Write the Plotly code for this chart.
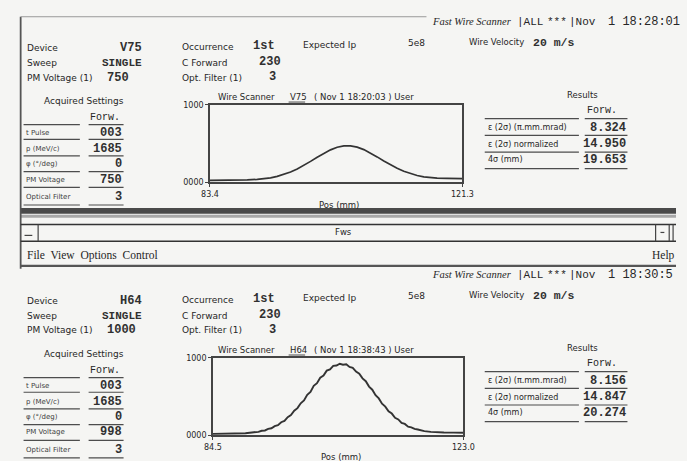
import plotly.graph_objects as go

W, H = 687, 461

# ---------------- data ----------------
top_pos = [83.4, 85.0, 87.0, 89.0, 90.5, 91.5, 92.5, 93.5, 94.5, 95.5, 96.5, 97.5,
           98.5, 99.5, 100.5, 101.5, 102.5, 103.5, 104.5, 105.5, 106.5, 107.5,
           108.5, 109.5, 110.5, 111.5, 112.5, 113.5, 114.5, 115.5, 116.5, 117.5,
           119.0, 121.3]
top_val = [28, 28, 29, 33, 40, 48, 60, 78, 102, 134, 174, 220,
           272, 325, 377, 421, 454, 471, 472, 456, 424, 381,
           330, 278, 227, 182, 144, 113, 90, 73, 62, 56,
           52, 50]

bot_pos = [84.5, 86.0, 88.0, 89.5, 90.5, 91.5, 92.0, 92.5, 93.0, 93.5, 94.0, 94.5,
           95.0, 95.5, 96.0, 96.5, 97.0, 97.5, 98.0, 98.5, 99.0, 99.5, 100.0, 100.5,
           101.0, 101.5, 102.0, 102.5, 103.0, 103.5, 104.0, 104.5, 105.0, 105.5,
           106.0, 106.5, 107.0, 107.5, 108.0, 108.5, 109.0, 109.5, 110.0, 110.5,
           111.0, 111.5, 112.0, 112.5, 113.0, 113.5, 114.0, 114.5, 115.0, 115.5,
           116.0, 116.5, 117.0, 118.0, 119.0, 120.0, 121.5, 123.0]
bot_val = [20, 22, 24, 28, 38, 46, 60, 64, 84, 92, 120, 132,
           170, 188, 236, 262, 318, 352, 415, 452, 524, 562, 640, 674,
           745, 772, 836, 852, 898, 902, 925, 912, 918, 884,
           872, 824, 798, 736, 700, 630, 590, 520, 478, 410,
           372, 312, 282, 228, 206, 162, 148, 112, 104, 84,
           76, 62, 56, 46, 40, 38, 36, 35]

top_xticks = [83.4, 121.3]
top_xticktext = ["83.4", "121.3"]
bot_xticks = [84.5, 123.0]
bot_xticktext = ["84.5", "123.0"]
y_ticks = [0, 1000]
y_ticktext = ["0000", "1000"]

acq_labels = ["t Pulse", "p (MeV/c)", "φ (°/deg)", "PM Voltage", "Optical Filter"]
top_acq = ["003", "1685", "0", "750", "3"]
bot_acq = ["003", "1685", "0", "998", "3"]
res_labels = ["ε (2σ) (π.mm.mrad)", "ε (2σ) normalized", "4σ (mm)"]
top_res = ["8.324", "14.950", "19.653"]
bot_res = ["8.156", "14.847", "20.274"]

# ---------------- styling helpers ----------------
SANS = "DejaVu Sans"
MONO = "Liberation Mono"
SERIF = "Liberation Serif"
TXT = "#262626"
FAINT = "#404040"
LINE = "#4d4d4d"
BG = "#f5f5f3"


def px(x):
    return x / W


def py(y):
    return 1 - y / H


annotations = []
shapes = []


def txt(x, y, s, anchor="left", size=9, family=SANS, color=TXT):
    annotations.append(dict(x=px(x), y=py(y), xref="paper", yref="paper", text=s,
                            showarrow=False, xanchor=anchor, yanchor="middle",
                            borderpad=0,
                            font=dict(family=family, size=size, color=color)))


def val(x, y, s, anchor="left", size=12):
    txt(x, y, "<b>" + s + "</b>", anchor=anchor, size=size, family=MONO, color="#303030")


def hline(x0, x1, y, w=1.2, c=LINE):
    shapes.append(dict(type="line", xref="paper", yref="paper", x0=px(x0), x1=px(x1),
                       y0=py(y), y1=py(y), line=dict(color=c, width=w)))


def vline(x, y0, y1, w=1.2, c=LINE):
    shapes.append(dict(type="line", xref="paper", yref="paper", x0=px(x), x1=px(x),
                       y0=py(y0), y1=py(y1), line=dict(color=c, width=w)))


def rect(x0, y0, x1, y1, fill, lw=0, lc=LINE):
    shapes.append(dict(type="rect", xref="paper", yref="paper", x0=px(x0), x1=px(x1),
                       y0=py(y1), y1=py(y0), fillcolor=fill,
                       line=dict(color=lc, width=lw), layer="below"))


def panel(o, device, pmv, acq, res, header_time, title_dev, title_time):
    # o: vertical offset of the panel (top panel o=0)
    # header
    txt(435, 18 + o, "<i>Fast Wire Scanner</i>", family=SERIF, size=10.5)
    txt(522, 18 + o, "|ALL", family=MONO, size=11)
    txt(553, 18 + o, "***", family=MONO, size=11)
    txt(576, 18 + o, "|Nov", family=MONO, size=11)
    txt(616, 18 + o, header_time, family=MONO, size=12)
    # info block
    txt(18, 45 + o, "Device")
    val(138, 45 + o, device, anchor="right")
    txt(18, 60 + o, "Sweep")
    val(138, 60 + o, "SINGLE", anchor="right", size=11)
    txt(18, 75 + o, "PM Voltage (1)")
    val(100, 75 + o, pmv)
    txt(177, 44 + o, "Occurrence")
    val(250, 43 + o, "1st")
    txt(177, 60 + o, "C Forward")
    val(256, 59 + o, "230")
    txt(177, 75 + o, "Opt. Filter (1)")
    val(276, 74 + o, "3", anchor="right")
    txt(302, 42 + o, "Expected Ip")
    txt(410, 40 + o, "5e8")
    txt(473, 39 + o, "Wire Velocity", size=8.5)
    val(539, 39 + o, "20 m/s", size=11.5)
    # acquired settings table
    txt(77, 99 + o, "Acquired Settings", anchor="center", size=9)
    txt(99, 116 + o, "Forw.", anchor="center", family=MONO, size=10)
    hline(15, 73, 123 + o)
    hline(82, 118, 123 + o)
    rows_t = [132, 148, 163, 179, 197]
    rows_l = [138, 155, 171, 187, 205]
    for lab, v, ty, ly in zip(acq_labels, acq, rows_t, rows_l):
        txt(16, ty + o, lab, size=7, color=FAINT)
        val(117, ty + o, v, anchor="right")
        hline(15, 73, ly + o)
        hline(82, 118, ly + o)
    # plot title
    txt(214, 95 + o, "Wire Scanner", size=8.5)
    txt(288, 95 + o, title_dev, size=8.5)
    hline(288, 305, 100 + o, w=1)
    txt(313, 95 + o, "( " + title_time + " ) User", size=8.5)
    # results table
    txt(591, 93 + o, "Results", anchor="center", size=8.5)
    txt(611, 109 + o, "Forw.", anchor="center", family=MONO, size=10)
    hline(490, 587, 117 + o)
    hline(593, 637, 117 + o)
    rt = [126, 143, 159]
    rl = [134, 151, 168]
    for lab, v, ty, ly in zip(res_labels, res, rt, rl):
        txt(492, ty + o, lab, size=8)
        val(637, ty + o, v, anchor="right")
        hline(490, 587, ly + o)
        hline(593, 637, ly + o)


# ---------------- figure ----------------
fig = go.Figure()
fig.add_trace(go.Scatter(x=top_pos, y=top_val, mode="lines", xaxis="x", yaxis="y",
                         line=dict(color="#333333", width=1.7), showlegend=False,
                         hoverinfo="skip"))
fig.add_trace(go.Scatter(x=bot_pos, y=bot_val, mode="lines", xaxis="x2", yaxis="y2",
                         line=dict(color="#333333", width=1.9), showlegend=False,
                         hoverinfo="skip"))

# panels
panel(0, "V75", "750", top_acq, top_res, "1 18:28:01", "V75", "Nov 1 18:20:03")
panel(258, "H64", "1000", bot_acq, bot_res, "1 18:30:5", "H64", "Nov 1 18:38:43")

# axis captions
txt(340, 205, "Pos (mm)", anchor="center", size=8.5)
txt(342, 462, "Pos (mm)", anchor="center", size=8.5)

# window chrome
vline(12, 13, 270, w=1.8, c="#555555")
hline(12, 430, 13, w=1, c="#9a9a9a")
rect(12, 208, 687, 214, "#4a4a4a")
rect(12, 215, 687, 218, "#a8a8a8")
hline(12, 687, 225, w=1.5, c="#333333")
hline(12, 687, 242, w=1.5, c="#333333")
vline(30, 225, 242, w=1.2, c="#444444")
hline(16, 24, 236, w=1.2, c="#444444")
vline(666, 225, 242, w=1.2, c="#444444")
vline(680, 225, 242, w=1.2, c="#444444")
vline(684, 225, 242, w=1.2, c="#444444")
hline(671, 675, 233, w=1.2, c="#444444")
txt(345, 233, "Fws", anchor="center", size=8.5)
txt(17, 257, "File  View  Options  Control", family=SERIF, size=11.5)
txt(687, 257, "Help", anchor="right", family=SERIF, size=11.5)
hline(12, 687, 267, w=2.2, c="#555555")

axis_common = dict(showline=True, mirror=True, linecolor="#444444", linewidth=1.5,
                   showgrid=False, zeroline=False, ticks="outside", ticklen=3,
                   tickcolor="#444444", tickfont=dict(family=SANS, size=8, color=TXT),
                   fixedrange=True)

fig.update_layout(
    width=W, height=H,
    margin=dict(l=0, r=0, t=0, b=0),
    paper_bgcolor=BG, plot_bgcolor=BG,
    showlegend=False,
    xaxis=dict(domain=[207 / W, 467 / W], anchor="y", range=[83.4, 121.3],
               tickmode="array", tickvals=top_xticks, ticktext=top_xticktext,
               **axis_common),
    yaxis=dict(domain=[1 - 182 / H, 1 - 103 / H], anchor="x", range=[0, 1000],
               tickmode="array", tickvals=y_ticks, ticktext=y_ticktext,
               **axis_common),
    xaxis2=dict(domain=[210 / W, 468 / W], anchor="y2", range=[84.5, 123.0],
                tickmode="array", tickvals=bot_xticks, ticktext=bot_xticktext,
                **axis_common),
    yaxis2=dict(domain=[1 - 440 / H, 1 - 361 / H], anchor="x2", range=[0, 1000],
                tickmode="array", tickvals=y_ticks, ticktext=y_ticktext,
                **axis_common),
    annotations=annotations,
    shapes=shapes,
)

fig.write_html("out.html")
